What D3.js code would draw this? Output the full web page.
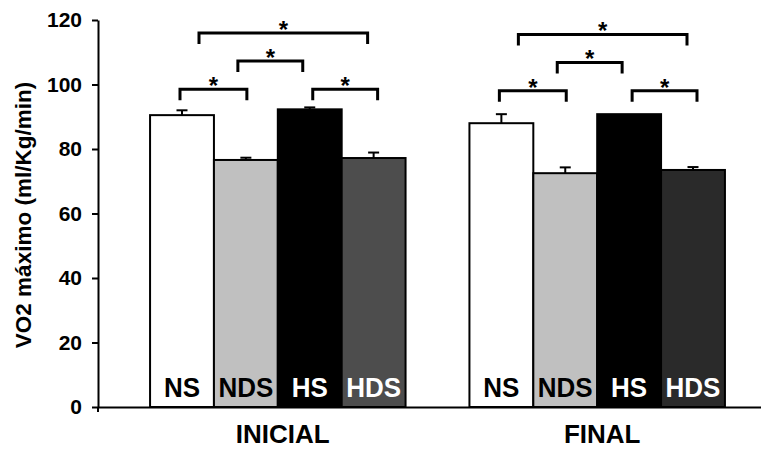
<!DOCTYPE html>
<html lang="es">
  <head>
    <meta charset="UTF-8" />
    <title>VO2 máximo</title>
    <style>
      body {
        margin: 0;
        background: #fff;
      }
      svg {
        display: block;
        font-family: "Liberation Sans", Arial, sans-serif;
        font-weight: bold;
      }
      .y-axis text {
        font-size: 21px;
      }
      .x-axis text {
        font-size: 26px;
      }
    </style>
  </head>
  <body>
    <svg id="chart"></svg>

    <script src="https://d3js.org/d3.v7.min.js"></script>
    <script>
      const width = 761;
      const height = 449;

      // data
      const periods = ["INICIAL", "FINAL"];
      const groups = ["NS", "NDS", "HS", "HDS"];
      const inicialMean = [90.5, 76.6, 92.3, 77.2];
      const inicialSem = [1.5, 0.7, 0.6, 1.7];
      const finalMean = [88.0, 72.5, 90.8, 73.5];
      const finalSem = [2.8, 1.8, 0, 0.9];
      const yTicks = [0, 20, 40, 60, 80, 100, 120];
      // significant pairs and the bracket level (in axis units)
      const comparisons = [
        ["NS", "NDS", 98.5],
        ["NDS", "HS", 107.3],
        ["HS", "HDS", 98.5],
        ["NS", "HDS", 116],
      ];

      const rows = [];
      periods.forEach((p, i) => {
        const means = i === 0 ? inicialMean : finalMean;
        const sems = i === 0 ? inicialSem : finalSem;
        groups.forEach((g, j) => {
          rows.push({ period: p, group: g, mean: means[j], sem: sems[j] });
        });
      });

      const fills = {
        INICIAL: { NS: "#ffffff", NDS: "#c0c0c0", HS: "#000000", HDS: "#4d4d4d" },
        FINAL: { NS: "#ffffff", NDS: "#c0c0c0", HS: "#000000", HDS: "#2a2a2a" },
      };
      const labelColor = { NS: "#000", NDS: "#000", HS: "#fff", HDS: "#fff" };

      const svg = d3.select("#chart").attr("width", width).attr("height", height);

      const axisX = 98;
      const x0 = d3
        .scaleBand()
        .domain(periods)
        .range([axisX, 777])
        .paddingInner(0.2)
        .paddingOuter(0.163);
      const x1 = d3.scaleBand().domain(groups).range([0, x0.bandwidth()]);
      const y = d3.scaleLinear().domain([0, 120]).range([407, 20]);

      const cx = (p, g) => x0(p) + x1(g) + x1.bandwidth() / 2;

      // bars
      const bar = svg
        .append("g")
        .selectAll("g")
        .data(rows)
        .join("g");

      bar
        .append("rect")
        .attr("x", (d) => x0(d.period) + x1(d.group))
        .attr("y", (d) => y(d.mean))
        .attr("width", x1.bandwidth())
        .attr("height", (d) => y(0) - y(d.mean))
        .attr("fill", (d) => fills[d.period][d.group])
        .attr("stroke", "#000")
        .attr("stroke-width", 2);

      // error bars (upper only)
      const err = bar.filter((d) => d.sem > 0);
      err
        .append("line")
        .attr("x1", (d) => cx(d.period, d.group))
        .attr("x2", (d) => cx(d.period, d.group))
        .attr("y1", (d) => y(d.mean))
        .attr("y2", (d) => y(d.mean + d.sem))
        .attr("stroke", "#000")
        .attr("stroke-width", 2);
      err
        .append("line")
        .attr("x1", (d) => cx(d.period, d.group) - 5.5)
        .attr("x2", (d) => cx(d.period, d.group) + 5.5)
        .attr("y1", (d) => y(d.mean + d.sem))
        .attr("y2", (d) => y(d.mean + d.sem))
        .attr("stroke", "#000")
        .attr("stroke-width", 2);

      // group names inside bars
      bar
        .append("text")
        .attr("transform", (d) => `translate(${cx(d.period, d.group)},397) scale(1,1.08)`)
        .attr("text-anchor", "middle")
        .attr("font-size", 26)
        .attr("fill", (d) => labelColor[d.group])
        .text((d) => d.group);

      // significance brackets
      const bracketShift = { "NS-NDS": [-2, 1], "NDS-HS": [-8, -7], "HS-HDS": [3, 4], "NS-HDS": [17, -6] };
      const legLen = 11;
      periods.forEach((p) => {
        const gB = svg.append("g");
        comparisons.forEach(([a, b, level]) => {
          const sh = bracketShift[a + "-" + b];
          const xa = cx(p, a) + sh[0];
          const xb = cx(p, b) + sh[1];
          const yl = y(level) + (p === "FINAL" ? 1.5 : 0);
          gB.append("path")
            .attr("d", `M${xa},${yl + legLen}V${yl}H${xb}V${yl + legLen}`)
            .attr("fill", "none")
            .attr("stroke", "#000")
            .attr("stroke-width", 3);
          gB.append("text")
            .attr("x", (xa + xb) / 2)
            .attr("y", yl + 5)
            .attr("text-anchor", "middle")
            .attr("font-size", 24)
            .text("*");
        });
      });

      // y axis
      const yAxis = svg
        .append("g")
        .attr("class", "y-axis")
        .attr("transform", `translate(${axisX},0)`)
        .call(
          d3.axisLeft(y).tickValues(yTicks).tickSize(6).tickSizeOuter(0).tickPadding(10)
        );
      yAxis.attr("font-family", null);
      yAxis.selectAll("path, line").attr("stroke", "#000").attr("stroke-width", 2);
      yAxis.selectAll("text").attr("fill", "#000");
      svg
        .append("line")
        .attr("x1", axisX)
        .attr("x2", axisX)
        .attr("y1", y(0))
        .attr("y2", y(0) + 5)
        .attr("stroke", "#000")
        .attr("stroke-width", 2);

      // x axis
      const xAxis = svg
        .append("g")
        .attr("class", "x-axis")
        .attr("transform", `translate(0,${y(0)})`)
        .call(d3.axisBottom(x0).tickSize(0).tickSizeOuter(0).tickPadding(18));
      xAxis.attr("font-family", null);
      xAxis.select(".domain").attr("stroke", "#000").attr("stroke-width", 2);
      xAxis.selectAll("text").attr("dx", 5).attr("fill", "#000");

      // y title
      svg
        .append("text")
        .attr("transform", `translate(31,${215}) rotate(-90)`)
        .attr("text-anchor", "middle")
        .attr("font-size", 22.5)
        .text("VO2 máximo (ml/Kg/min)");
    </script>
  </body>
</html>
